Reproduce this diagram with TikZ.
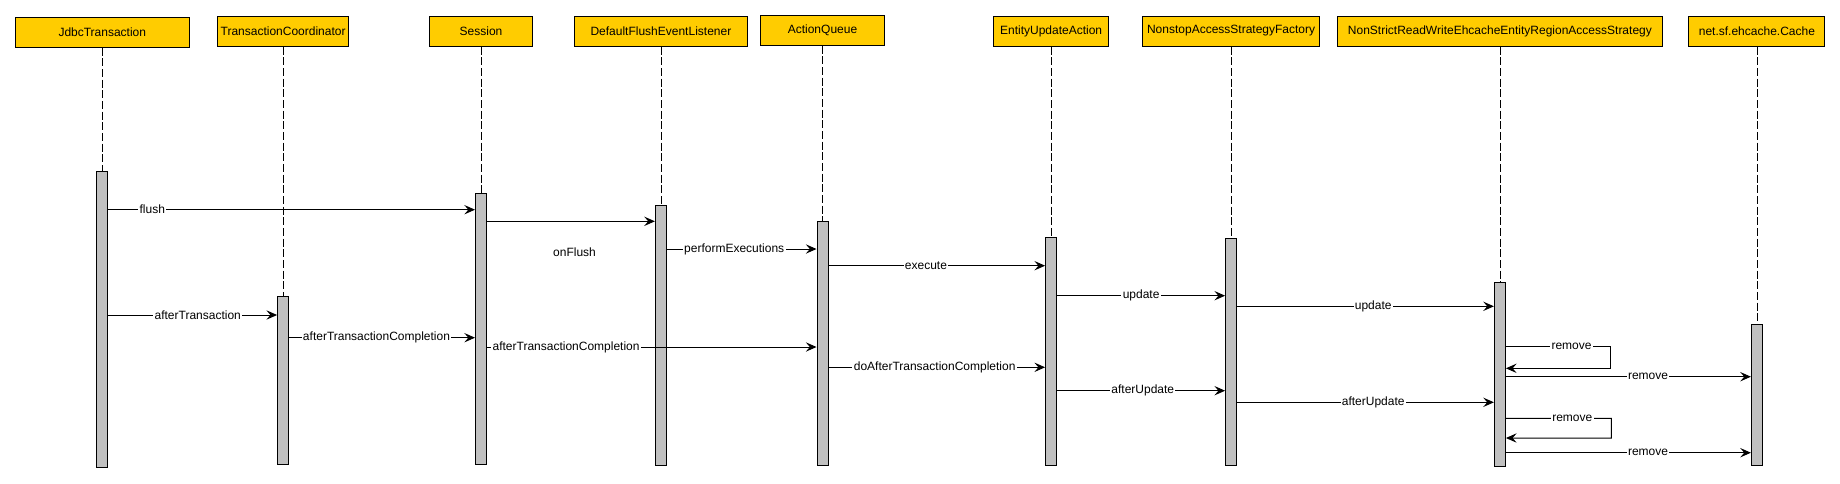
\documentclass[tikz,border=0pt]{standalone}
\usepackage{fontspec}
\setmainfont{Liberation Sans}
\usepackage{tikz}
\usetikzlibrary{arrows.meta, positioning}
\definecolor{boxgold}{HTML}{FFCC00}
\definecolor{bargray}{HTML}{C0C0C0}

\begin{document}
\begin{tikzpicture}[x=0.75pt, y=-0.75pt,
  obj/.style={draw, fill=boxgold, line width=0.75pt, minimum height=22.5pt, inner sep=0pt, font=\fontsize{9}{11}\selectfont},
  act/.style={draw, fill=bargray, line width=0.75pt, minimum width=8.25pt, inner sep=0pt, anchor=north},
  life/.style={dash pattern=on 6pt off 2pt, line width=0.6pt},
  msg/.style={-{Stealth[length=8pt, width=7pt, inset=3pt]}, line width=0.75pt},
  lbl/.style={fill=white, inner sep=1pt, font=\fontsize{9}{11}\selectfont}]
  \useasboundingbox (0,0) rectangle (1840,483);

  % objects
  \node[obj, minimum width=130.9pt] (jdbc)     at (102.3,32) {JdbcTransaction};
  \node[obj, minimum width=98.5pt]  (coord)    at (283.1,31) {TransactionCoordinator};
  \node[obj, minimum width=77.4pt]  (session)  at (481,31)   {Session};
  \node[obj, minimum width=129.9pt] (listener) at (660.9,31) {DefaultFlushEventListener};
  \node[obj, minimum width=93.2pt]  (queue)    at (822.5,30) {ActionQueue};
  \node[obj, minimum width=86.4pt]  (action)   at (1051.1,31) {EntityUpdateAction};
  \node[obj, minimum width=132.8pt] (factory)  at (1231.1,31) {NonstopAccessStrategyFactory};
  \node[obj, minimum width=244pt]   (strategy) at (1499.9,31) {NonStrictReadWriteEhcacheEntityRegionAccessStrategy};
  \node[obj, minimum width=102pt]   (cache)    at (1756.9,31) {net.sf.ehcache.Cache};

  % activations
  \node[act, minimum height=221.8pt] (jdbc-act)     at (jdbc.south |- 0,171.3) {};
  \node[act, minimum height=126.2pt] (coord-act)    at (coord.south |- 0,296) {};
  \node[act, minimum height=203.3pt] (session-act)  at (session.south |- 0,193.3) {};
  \node[act, minimum height=195pt]   (listener-act) at (listener.south |- 0,205.3) {};
  \node[act, minimum height=183pt]   (queue-act)    at (queue.south |- 0,221.3) {};
  \node[act, minimum height=171.5pt] (action-act)   at (action.south |- 0,236.7) {};
  \node[act, minimum height=170.7pt] (factory-act)  at (factory.south |- 0,237.7) {};
  \node[act, minimum height=137.8pt] (strategy-act) at (strategy.south |- 0,282.3) {};
  \node[act, minimum height=105.8pt] (cache-act)    at (cache.south |- 0,324.3) {};

  \path[life]
    (jdbc) edge (jdbc-act)
    (coord) edge (coord-act)
    (session) edge (session-act)
    (listener) edge (listener-act)
    (queue) edge (queue-act)
    (action) edge (action-act)
    (factory) edge (factory-act)
    (strategy) edge (strategy-act)
    (cache) edge (cache-act);

  % messages
  \path[msg]
    (jdbc-act.east |- 0,209.7) edge node[lbl, pos=0.12] {flush} (session-act.west |- 0,209.7)
    (session-act.east |- 0,221.3) edge (listener-act.west |- 0,221.3)
    (listener-act.east |- 0,249) edge node[lbl, pos=0.45] {performExecutions} (queue-act.west |- 0,249)
    (queue-act.east |- 0,265.7) edge node[lbl, pos=0.45] {execute} (action-act.west |- 0,265.7)
    (action-act.east |- 0,295.7) edge node[lbl, pos=0.5] {update} (factory-act.west |- 0,295.7)
    (factory-act.east |- 0,306.3) edge node[lbl, pos=0.53] {update} (strategy-act.west |- 0,306.3)
    (jdbc-act.east |- 0,315) edge node[lbl, pos=0.53] {afterTransaction} (coord-act.west |- 0,315)
    (coord-act.east |- 0,337.7) edge node[lbl, pos=0.47] {afterTransactionCompletion} (session-act.west |- 0,337.7)
    (session-act.east |- 0,347) edge node[lbl, pos=0.24] {afterTransactionCompletion} (queue-act.west |- 0,347)
    (strategy-act.east |- 0,376.7) edge node[lbl, pos=0.58] {remove} (cache-act.west |- 0,376.7)
    (queue-act.east |- 0,367.3) edge node[lbl, pos=0.49] {doAfterTransactionCompletion} (action-act.west |- 0,367.3)
    (action-act.east |- 0,390.7) edge node[lbl, pos=0.51] {afterUpdate} (factory-act.west |- 0,390.7)
    (factory-act.east |- 0,402.3) edge node[lbl, pos=0.53] {afterUpdate} (strategy-act.west |- 0,402.3)
    (strategy-act.east |- 0,452.7) edge node[lbl, pos=0.58] {remove} (cache-act.west |- 0,452.7);

  \node[lbl] (onflush) at (574.5,252) {onFlush};

  % self calls
  \draw[msg] (strategy-act.east |- 0,346.7) -- node[lbl, pos=0.63] {remove} ++(104.2,0) -- ++(0,21.6) -- (strategy-act.east |- 0,368.3);
  \draw[msg] (strategy-act.east |- 0,418.3) -- node[lbl, pos=0.63] {remove} ++(105.4,0) -- ++(0,19.7) -- (strategy-act.east |- 0,438);
\end{tikzpicture}
\end{document}
